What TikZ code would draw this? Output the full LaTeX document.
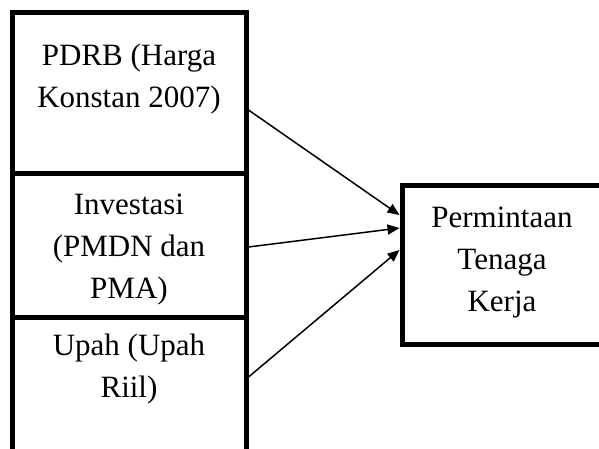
\documentclass[tikz,border=0pt]{standalone}
\usepackage{fontspec}
\setmainfont{Liberation Serif}
\usetikzlibrary{positioning,arrows.meta}

\begin{document}
\begin{tikzpicture}[x=1pt,y=1pt]
        \tikzstyle{kotak}=[draw=black, line width=5pt, rectangle, inner sep=0pt]
        \tikzstyle{teks}=[align=center, inner sep=0pt, font=\fontsize{31}{42}\selectfont]
        \tikzstyle{panah}=[line width=1.5pt, -{Triangle[length=12pt,width=10pt]}]

        \useasboundingbox (0,0) rectangle (599,-448);
        \clip (0,0) rectangle (599,-448);

        \node[kotak, minimum width=234pt, minimum height=161pt] (pdrb) at (129,-92.5) {};
        \node[kotak, minimum width=234pt, minimum height=144pt] (investasi) at (129,-245) {};
        \node[kotak, minimum width=234pt, minimum height=145pt] (upah) at (129,-389.5) {};
        \node[kotak, minimum width=210pt, minimum height=159pt] (kerja) at (507,-264.5) {};

        \node[teks, below=34pt of pdrb.north] (tpdrb) {PDRB (Harga\\Konstan 2007)};
        \node[teks, below=23pt of investasi.north] (tinvestasi) {Investasi\\(PMDN dan\\PMA)};
        \node[teks, below=19.5pt of upah.north] (tupah) {Upah (Upah\\Riil)};
        \node[teks, below=24pt of kerja.north, xshift=-5pt] (tkerja) {Permintaan\\Tenaga\\Kerja};

        \draw[panah] ([yshift=-17.5pt]pdrb.east) -- ([yshift=49.5pt]kerja.west);
        \draw[panah] ([yshift=-2pt]investasi.east) -- ([yshift=36.5pt]kerja.west);
        \draw[panah] ([yshift=12.5pt]upah.east) -- ([yshift=14.5pt]kerja.west);
      \end{tikzpicture}
\end{document}
